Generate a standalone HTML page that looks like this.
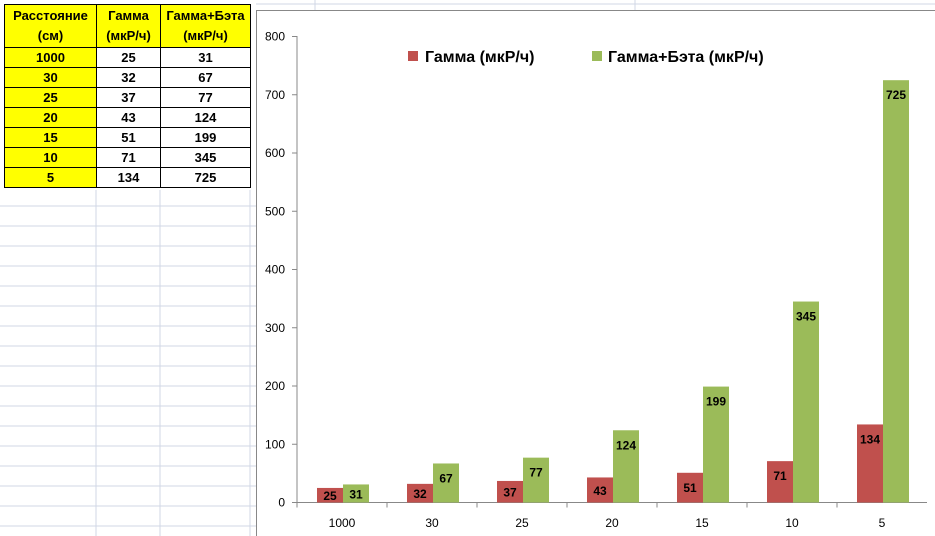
<!DOCTYPE html>
<html><head><meta charset="utf-8"><style>
body{margin:0;width:935px;height:536px;overflow:hidden;background:#fff;font-family:"Liberation Sans",sans-serif;position:relative}
table{position:absolute;left:4px;top:4px;border-collapse:collapse;font-weight:bold;font-size:13px}
td{border:1px solid #000;text-align:center;height:19px;padding:0}
.y{background:#ff0}
</style></head><body>
<svg style="position:absolute;left:0;top:0" width="935" height="536">
<g stroke="#d0d7e5" stroke-width="1" id="grid"></g>
</svg>
<table>
<tr><td class="y" style="width:91px;height:42px;line-height:20px">Расстояние<br>(см)</td><td class="y" style="width:63px;line-height:20px">Гамма<br>(мкР/ч)</td><td class="y" style="width:89px;line-height:20px">Гамма+Бэта<br>(мкР/ч)</td></tr>
<tr><td class="y">1000</td><td>25</td><td>31</td></tr>
<tr><td class="y">30</td><td>32</td><td>67</td></tr>
<tr><td class="y">25</td><td>37</td><td>77</td></tr>
<tr><td class="y">20</td><td>43</td><td>124</td></tr>
<tr><td class="y">15</td><td>51</td><td>199</td></tr>
<tr><td class="y">10</td><td>71</td><td>345</td></tr>
<tr><td class="y">5</td><td>134</td><td>725</td></tr>
</table>
<svg id="chart" style="position:absolute;left:0;top:0" width="935" height="536" font-family="Liberation Sans, sans-serif"></svg>
<script>
const categories=["1000","30","25","20","15","10","5"];
const gamma=[25,32,37,43,51,71,134];
const gammaBeta=[31,67,77,124,199,345,725];
const yTicks=[0,100,200,300,400,500,600,700,800];
const NS="http://www.w3.org/2000/svg";
const g=document.getElementById('grid');
function ln(p,x1,y1,x2,y2,c){const l=document.createElementNS(NS,'line');l.setAttribute('x1',x1);l.setAttribute('y1',y1);l.setAttribute('x2',x2);l.setAttribute('y2',y2);if(c)l.setAttribute('stroke',c);p.appendChild(l);return l;}
for(let y=206;y<536;y+=20)ln(g,0,y,256,y);
[96,160,250].forEach(x=>ln(g,x,190,x,536));
ln(g,256,4,935,4);[315,635].forEach(x=>ln(g,x,0,x,10));
const s=document.getElementById('chart');
function el(t,a,txt){const e=document.createElementNS(NS,t);for(const k in a)e.setAttribute(k,a[k]);if(txt!=null)e.textContent=txt;s.appendChild(e);return e;}
const fr=el('rect',{x:256.5,y:10.5,width:690,height:540,fill:'#fff',stroke:'#888'});

const X0=297,Y0=502.5,CW=90,pxPer=(502.5-36.5)/800;
const yS=v=>Y0-v*pxPer, xS=i=>X0+i*CW;
ln(s,X0,36,X0,Y0,'#888');ln(s,X0,Y0,X0+CW*categories.length,Y0,'#888');
yTicks.forEach(v=>{ln(s,X0-5,yS(v),X0,yS(v),'#888');const t=el('text',{x:X0-12,y:yS(v)+4,'text-anchor':'end','font-size':12},v);});
categories.forEach((c,i)=>{
ln(s,xS(i),Y0,xS(i),Y0+5,'#888');
const t=el('text',{x:xS(i)+CW/2,y:527,'text-anchor':'middle','font-size':12},c);

const bx=xS(i)+20;
[[gamma[i],'#c0504d',bx,'bar-gamma'],[gammaBeta[i],'#9bbb59',bx+26,'bar-gamma-beta']].forEach(([v,col,x,n])=>{
const r=el('rect',{x:x,y:yS(v),width:26,height:Y0-yS(v),fill:col});

const top=yS(v);
const ly=Math.min(top+19,(top+Y0)/2+5);
const lt=el('text',{x:x+13,y:ly,'text-anchor':'middle','font-size':12,'font-weight':'bold'},v);

});
});
const l1=el('rect',{x:408,y:51,width:10,height:10,fill:'#c0504d'});
const t1=el('text',{x:425,y:62,'font-size':16,'font-weight':'bold'},'Гамма (мкР/ч)');
const l2=el('rect',{x:592,y:51,width:10,height:10,fill:'#9bbb59'});
const t2=el('text',{x:608,y:62,'font-size':16,'font-weight':'bold'},'Гамма+Бэта (мкР/ч)');
</script>
</body></html>
